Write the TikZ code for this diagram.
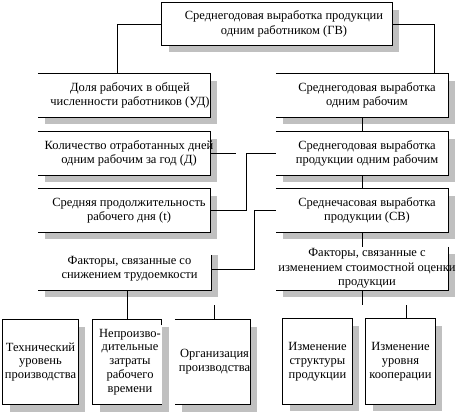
\documentclass[tikz,border=0pt]{standalone}
\usepackage{fontspec}
\setmainfont{Liberation Serif}
\usetikzlibrary{shadows}
\definecolor{shadowgray}{RGB}{192,192,192}
\begin{document}
\begin{tikzpicture}[x=1pt,y=-1pt,
  box/.style={draw=none, fill=white, inner sep=0pt,
    drop shadow={shadow xshift=7pt, shadow yshift=-7pt, fill=shadowgray, opacity=1}},
  wide/.style={box, minimum width=172pt, minimum height=43pt},
  tall/.style={box, minimum width=#1, minimum height=85pt},
  lbl/.style={align=center, inner sep=0pt, font=\fontsize{12.5pt}{14.5pt}\selectfont},
  blbl/.style={align=center, inner sep=0pt, font=\fontsize{12.5pt}{13.8pt}\selectfont},
  ln/.style={line width=0.8pt, line join=miter}]
\useasboundingbox (0,0) rectangle (459,416);

% boxes
\node[box, minimum width=230pt, minimum height=42pt] (top) at (277,24) {};
\node[wide] (L1) at (124,95.5) {};
\node[wide] (R1) at (362,95.5) {};
\node[wide] (L2) at (124,153.5) {};
\node[wide] (R2) at (362,153.5) {};
\node[wide] (L3) at (124,210.5) {};
\node[wide] (R3) at (362,210.5) {};
\node[box, minimum width=173pt, minimum height=42pt] (L4) at (124.5,269) {};
\node[wide] (R4) at (362,268.5) {};
\node[tall=75pt] (B1) at (40.5,362) {};
\node[tall=69pt] (B2) at (127,362) {};
\node[tall=75pt] (B3) at (212.5,362) {};
\node[tall=69pt] (B4) at (317.5,361.5) {};
\node[tall=69pt] (B5) at (400.5,361.5) {};

% labels
\node[lbl] (tTop) at ([xshift=7pt]top.center) {Среднегодовая выработка продукции\\одним работником (ГВ)};
\node[lbl] (tL1) at ([xshift=6pt]L1.center) {Доля рабочих в общей\\численности работников (УД)};
\node[lbl] (tR1) at ([xshift=5pt]R1.center) {Среднегодовая выработка\\одним рабочим};
\node[lbl] (tL2) at ([xshift=5pt]L2.center) {Количество отработанных дней\\одним рабочим за год (Д)};
\node[lbl] (tR2) at ([xshift=5pt]R2.center) {Среднегодовая выработка\\продукции одним рабочим};
\node[lbl] (tL3) at ([xshift=5pt]L3.center) {Средняя продолжительность\\рабочего дня (t)};
\node[lbl] (tR3) at ([xshift=5pt]R3.center) {Среднечасовая выработка\\продукции (СВ)};
\node[lbl] (tL4) at ([xshift=5pt]L4.center) {Факторы, связанные со\\снижением трудоемкости};
\node[lbl] (tR4) at ([xshift=5pt]R4.center) {Факторы, связанные с\\изменением стоимостной оценки\\продукции};
\node[blbl] (tB1) at (B1.center) {Технический\\уровень\\производства};
\node[blbl] (tB2) at ([xshift=3pt]B2.center) {Непроизво-\\дительные\\затраты\\рабочего\\времени};
\node[blbl] (tB3) at ([xshift=2pt]B3.center) {Организация\\производства};
\node[blbl] (tB4) at (B4.center) {Изменение\\структуры\\продукции};
\node[blbl] (tB5) at (B5.center) {Изменение\\уровня\\кооперации};

% borders
\draw[ln] (top.north west) rectangle (top.south east);
\foreach \b in {L1,R1,L2,R2,L3,R3}
  \draw[ln] (\b.north west) -- (\b.north east) -- (\b.south east) -- (\b.south west);
\draw[ln] ([yshift=-7pt]L4.north east) -- (L4.south east) -- (L4.south west);
\draw[ln] (R4.north east) -- (R4.south east) -- (R4.south west);
\draw[ln] (B1.north west) rectangle (B1.south east);
\draw[ln] ([yshift=-6pt]B2.north east) -- (B2.north east) -- (B2.north west) -- (B2.south west) -- (B2.south east);
\draw[ln] (B3.north west) -- (B3.north east) -- (B3.south east) -- (B3.south west);
\draw[ln] (B4.north west) rectangle (B4.south east);
\draw[ln] (B5.north west) rectangle (B5.south east);

% connector ends
\coordinate (stubA) at (236,153.5);
\coordinate (stubB) at (362,305);
\coordinate (stubC) at (214,305);
\coordinate (stubD) at (406,305);

% connectors
\draw[ln] (top.west) -| ([xshift=-7pt]L1.north);
\draw[ln] (top.east) -| ([xshift=-14pt]R1.north east);
\draw[ln] (R1.south) -- (R2.north);
\draw[ln] (R2.south) -- (R3.north);
\draw[ln] (R3.south) -- (R4.north);
\draw[ln] (L2.east) -- (stubA);
\draw[ln] (R2.west) -- ++(-29pt,0) |- (L3.east);
\draw[ln] (R3.west) -- ++(-21pt,0) |- (L4.east);
\draw[ln] (R4.south) -- (stubB);
\draw[ln] (B2.north |- L4.south) -- (B2.north);
\draw[ln] (stubC) -- (stubC |- B3.north);
\draw[ln] (stubD) -- (stubD |- B5.north);
\end{tikzpicture}
\end{document}
